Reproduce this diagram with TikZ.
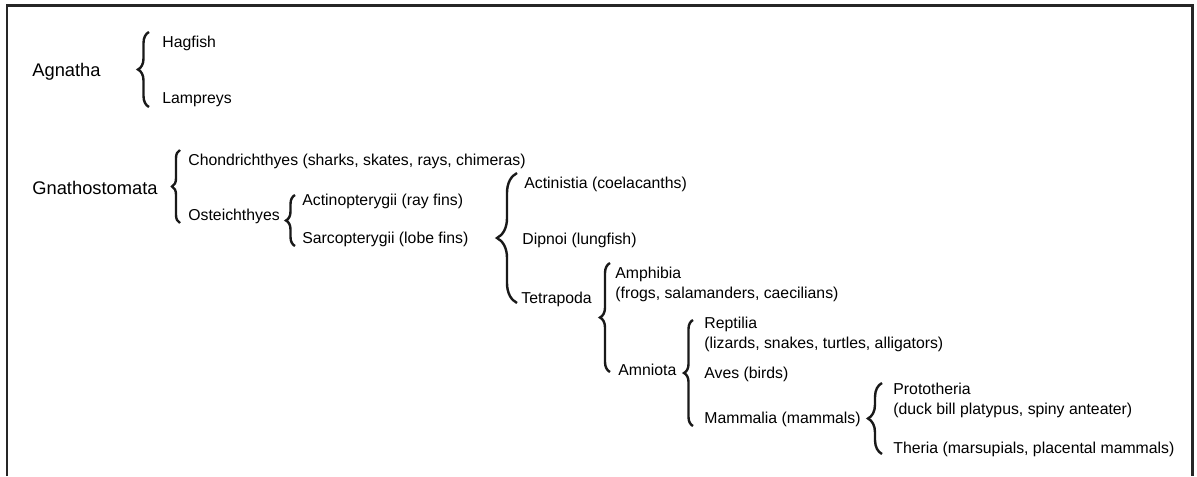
\documentclass[tikz,border=0pt]{standalone}
\usepackage{fontspec}
\setmainfont{Liberation Sans}
\usetikzlibrary{decorations.pathreplacing, calc}
\tikzstyle{frame} = [line width=1.3pt, black!85]

\begin{document}
\begin{tikzpicture}[
    x=0.5pt, y=-0.5pt,
    taxon/.style={anchor=base west, inner sep=0pt, font=\fontsize{7.9}{10}\selectfont},
    bigtaxon/.style={anchor=base west, inner sep=0pt, font=\fontsize{9.15}{11}\selectfont},
    curly/.style={decorate, decoration={brace, amplitude=#1}, line width=1.2pt, black!90}
]
    \useasboundingbox (0,0) rectangle (1197,476);

    % Frame (open at the bottom)
    \draw[frame] (7,476) -- (7,5.5) -- (1192.5,5.5) -- (1192.5,476);

    % Agnatha
    \node[bigtaxon] (agnatha) at (32,76.5) {Agnatha};
    \node[taxon] (hagfish) at (162,47.5) {Hagfish};
    \node[taxon] (lampreys) at (162,103.5) {Lampreys};
    \draw[curly=5.5pt] (149,107) -- (149,32);

    % Gnathostomata
    \node[bigtaxon] (gnatho) at (32,194.5) {Gnathostomata};
    \node[taxon] (chondr) at (188,165.5) {Chondrichthyes (sharks, skates, rays, chimeras)};
    \node[taxon] (osteich) at (188,220.5) {Osteichthyes};
    \draw[curly=4pt] (180,223) -- (180,150);

    % Osteichthyes
    \node[taxon] (actinop) at (302,205.5) {Actinopterygii (ray fins)};
    \node[taxon] (sarcop) at (302,243.5) {Sarcopterygii (lobe fins)};
    \draw[curly=4.5pt] (295,246) -- (295,195);

    % Sarcopterygii
    \node[taxon] (actinis) at (524,188.5) {Actinistia (coelacanths)};
    \node[taxon] (dipnoi) at (522,244.5) {Dipnoi (lungfish)};
    \node[taxon] (tetra) at (521,303.5) {Tetrapoda};
    \draw[curly=10pt] (517,303) -- (517,173);

    % Tetrapoda
    \node[taxon] (amphib) at (615,278.5) {\begin{tabular}[t]{@{}l@{}}Amphibia\\(frogs, salamanders, caecilians)\end{tabular}};
    \node[taxon] (amniota) at (618,375.5) {Amniota};
    \draw[curly=5pt] (610,372) -- (610,263);

    % Amniota
    \node[taxon] (reptil) at (704,328.5) {\begin{tabular}[t]{@{}l@{}}Reptilia\\(lizards, snakes, turtles, alligators)\end{tabular}};
    \node[taxon] (aves) at (704,378.5) {Aves (birds)};
    \node[taxon] (mammal) at (704,423.5) {Mammalia (mammals)};
    \draw[curly=4.5pt] (693,426) -- (693,320);

    % Mammalia
    \node[taxon] (proto) at (893,394.5) {\begin{tabular}[t]{@{}l@{}}Prototheria\\(duck bill platypus, spiny anteater)\end{tabular}};
    \node[taxon] (theria) at (893,453.5) {Theria (marsupials, placental mammals)};
    \draw[curly=7pt] (882,454) -- (882,383);

\end{tikzpicture}
\end{document}
